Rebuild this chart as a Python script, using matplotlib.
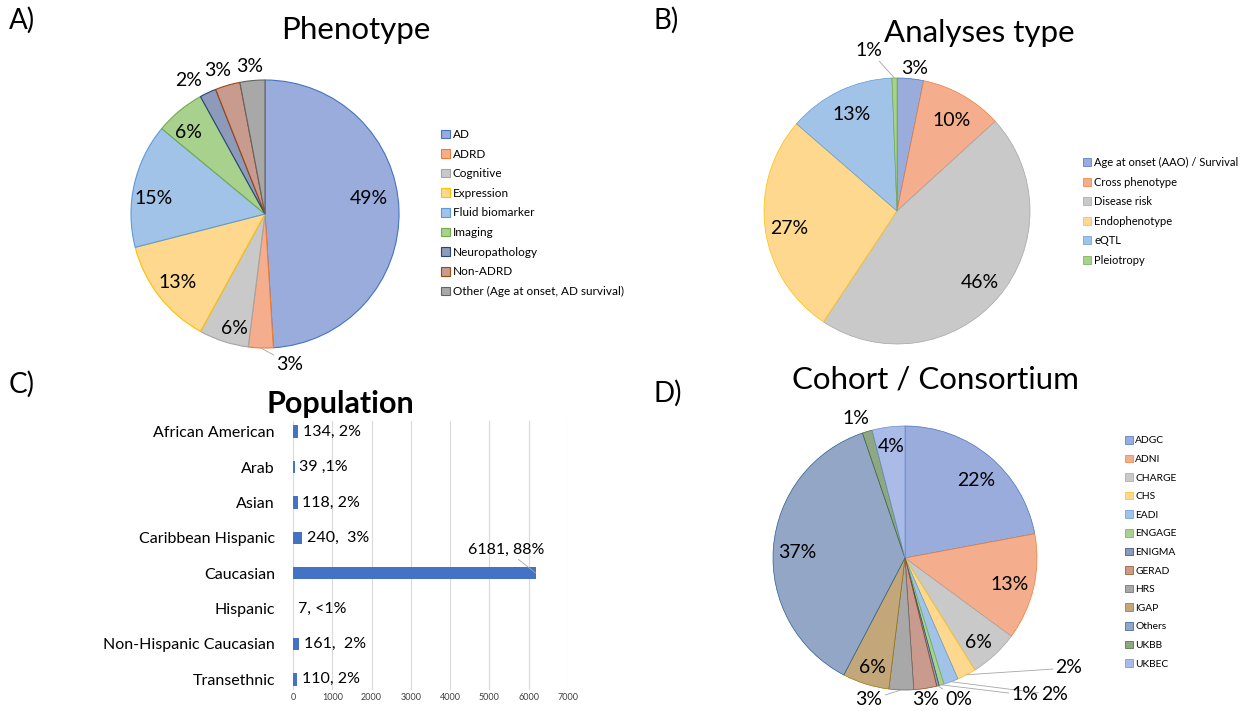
import math
import matplotlib
matplotlib.use("Agg")
import matplotlib.pyplot as plt

plt.rcParams['font.family'] = ['Lato', 'DejaVu Sans']

W, H = 1242, 711

# ---------------- data ----------------
pheno_cats = ["AD", "ADRD", "Cognitive", "Expression", "Fluid biomarker", "Imaging",
              "Neuropathology", "Non-ADRD", "Other (Age at onset, AD survival)"]
pheno_vals = [49, 3, 6, 13, 15, 6, 2, 3, 3]

analysis_cats = ["Age at onset (AAO) / Survival", "Cross phenotype", "Disease risk",
                 "Endophenotype", "eQTL", "Pleiotropy"]
analysis_vals = [3.2, 10, 46, 27, 13, 0.6]

pop_cats = ["African American", "Arab", "Asian", "Caribbean Hispanic", "Caucasian",
            "Hispanic", "Non-Hispanic Caucasian", "Transethnic"]
pop_vals = [134, 39, 118, 240, 6181, 7, 161, 110]
pop_labels = ["134, 2%", "39 ,1%", "118, 2%", "240,  3%", "6181, 88%", "7, <1%",
              "161,  2%", "110, 2%"]
pop_ticks = [0, 1000, 2000, 3000, 4000, 5000, 6000, 7000]

cohort_cats = ["ADGC", "ADNI", "CHARGE", "CHS", "EADI", "ENGAGE", "ENIGMA", "GERAD",
               "HRS", "IGAP", "Others", "UKBB", "UKBEC"]
cohort_vals = [22, 13, 6, 2.3, 1.8, 0.6, 0.3, 2.8, 3, 5.7, 37, 1.2, 4]

# ---------------- styles ----------------
theme_edges = ['#4472C4', '#ED7D31', '#A5A5A5', '#FFC000', '#5B9BD5', '#70AD47',
               '#264478', '#9E480E', '#636363', '#997300', '#255E91', '#43682B', '#698ED0']
theme_faces = ['#9AACDC', '#F4AE8E', '#C9C9C9', '#FDD88E', '#A2C3E8', '#A9D18E',
               '#8D9ABA', '#C99B8F', '#A8A8A8', '#C3A77A', '#93A6C6', '#8EA886', '#AABBE8']

fig = plt.figure(figsize=(W / 100, H / 100), dpi=100)
fig.patch.set_facecolor('white')


def fx(px):
    return px / W


def fy(py):
    return 1 - py / H


def pie_axes(cx, cy, r, half=175):
    ax = fig.add_axes([fx(cx - half), fy(cy + half), 2 * half / W, 2 * half / H])
    ax.patch.set_alpha(0)
    return ax, half / r


def draw_pie(ax, lim, cx, cy, r, vals, label_px, leaders, fs=14, lw=0.8):
    n = len(vals)
    wedges, _ = ax.pie(vals, colors=theme_faces[:n], startangle=90, counterclock=False,
                       radius=1, wedgeprops=dict(linewidth=lw))
    ax.set_xlim(-lim, lim)
    ax.set_ylim(-lim, lim)
    ax.set_aspect('equal')
    ax.axis('off')
    for w, ec in zip(wedges, theme_edges[:n]):
        w.set_edgecolor(ec)
    tot = sum(vals)
    for i, (w, v) in enumerate(zip(wedges, vals)):
        txt = f"{round(v / tot * 100)}%"
        px, py = label_px[i]
        x, y = (px - cx) / r, (cy - py) / r
        if i in leaders:
            mid = math.radians((w.theta1 + w.theta2) / 2)
            ax.annotate(txt, xy=(math.cos(mid), math.sin(mid)),
                        xytext=(x, y), ha='center', va='center', fontsize=fs,
                        arrowprops=dict(arrowstyle='-', color='#A6A6A6', lw=0.6,
                                        shrinkA=0, shrinkB=0))
        else:
            ax.text(x, y, txt, ha='center', va='center', fontsize=fs)
    return wedges


def add_legend(wedges, labels, x, y, fs, spacing):
    fig.legend(wedges, labels, loc='upper left', bbox_to_anchor=(fx(x), fy(y)),
               frameon=False, fontsize=fs, handlelength=0.75, handleheight=0.75,
               handletextpad=0.25, labelspacing=spacing, borderaxespad=0, borderpad=0)


# ---------------- A) Phenotype ----------------
cxA, cyA, rA = 265, 214, 134
axA, limA = pie_axes(cxA, cyA, rA)
posA = [(369, 199), (290, 364), (234, 328), (178, 283), (154, 199), (188, 132),
        (189, 80), (218, 71), (250, 67)]
wA = draw_pie(axA, limA, cxA, cyA, rA, pheno_vals, posA, leaders=[1])
add_legend(wA, pheno_cats, 441, 129, 8.5, 0.73)
fig.text(fx(356), fy(30), "Phenotype", ha='center', va='center', fontsize=22.5)
fig.text(fx(9), fy(20), "A)", ha='left', va='center', fontsize=20)

# ---------------- B) Analyses type ----------------
cxB, cyB, rB = 897, 211, 133
axB, limB = pie_axes(cxB, cyB, rB)
posB = [(915, 69), (952, 120), (980, 282), (789, 228), (852, 115), (869, 50)]
wB = draw_pie(axB, limB, cxB, cyB, rB, analysis_vals, posB, leaders=[5], lw=0.5)
add_legend(wB, analysis_cats, 1083, 157, 8, 0.77)
fig.text(fx(979), fy(33), "Analyses type", ha='center', va='center', fontsize=22.5)
fig.text(fx(654), fy(20), "B)", ha='left', va='center', fontsize=20)

# ---------------- D) Cohort / Consortium ----------------
cxD, cyD, rD = 905, 558, 132
axD, limD = pie_axes(cxD, cyD, rD)
posD = [(976, 481), (1010, 585), (978, 643), (1069, 668), (1055, 695), (1025, 695),
        (959, 700), (926, 700), (869, 700), (872, 668), (797, 553), (856, 419), (891, 447)]
wD = draw_pie(axD, limD, cxD, cyD, rD, cohort_vals, posD, leaders=[3, 4, 5, 6, 8], lw=0.5)
add_legend(wD, cohort_cats, 1125, 436, 7.4, 0.9)
fig.text(fx(935), fy(380), "Cohort / Consortium", ha='center', va='center', fontsize=22.5)
fig.text(fx(654), fy(393), "D)", ha='left', va='center', fontsize=20)

# ---------------- C) Population ----------------
top_px, bot_px = 421, 690
axC = fig.add_axes([fx(293), fy(bot_px), (568 - 293) / W, (bot_px - top_px) / H])
ypos = list(range(len(pop_cats)))
axC.barh(ypos, pop_vals, height=0.35, color='#4472C4', zorder=3)
axC.set_xlim(0, 7000)
axC.set_ylim(len(pop_cats) - 1 + 0.3, -0.3)
axC.set_xticks(pop_ticks)
axC.set_xticklabels([str(t) for t in pop_ticks], fontsize=6.5, color='#404040')
axC.set_yticks(ypos)
axC.set_yticklabels(pop_cats, fontsize=11.5)
axC.tick_params(axis='both', length=0)
axC.tick_params(axis='y', pad=13)
axC.tick_params(axis='x', pad=2)
for s in axC.spines.values():
    s.set_visible(False)
axC.grid(axis='x', color='#D9D9D9', lw=0.8, zorder=0)
axC.set_axisbelow(True)
big = max(range(len(pop_vals)), key=lambda i: pop_vals[i])
for i, (v, lab) in enumerate(zip(pop_vals, pop_labels)):
    if i == big:
        axC.annotate(lab, xy=(v, i), xytext=(-21.5, 17), textcoords='offset points',
                     ha='center', va='center', fontsize=11.5,
                     arrowprops=dict(arrowstyle='-', color='#A6A6A6', lw=0.6,
                                     shrinkA=0, shrinkB=0))
    else:
        axC.annotate(lab, xy=(v, i), xytext=(3.5, 0), textcoords='offset points',
                     ha='left', va='center', fontsize=11.5)
fig.text(fx(340), fy(404), "Population", ha='center', va='center', fontsize=22,
         fontweight='bold')
fig.text(fx(9), fy(384), "C)", ha='left', va='center', fontsize=20)

fig.savefig("out.png", dpi=100, facecolor='white')
